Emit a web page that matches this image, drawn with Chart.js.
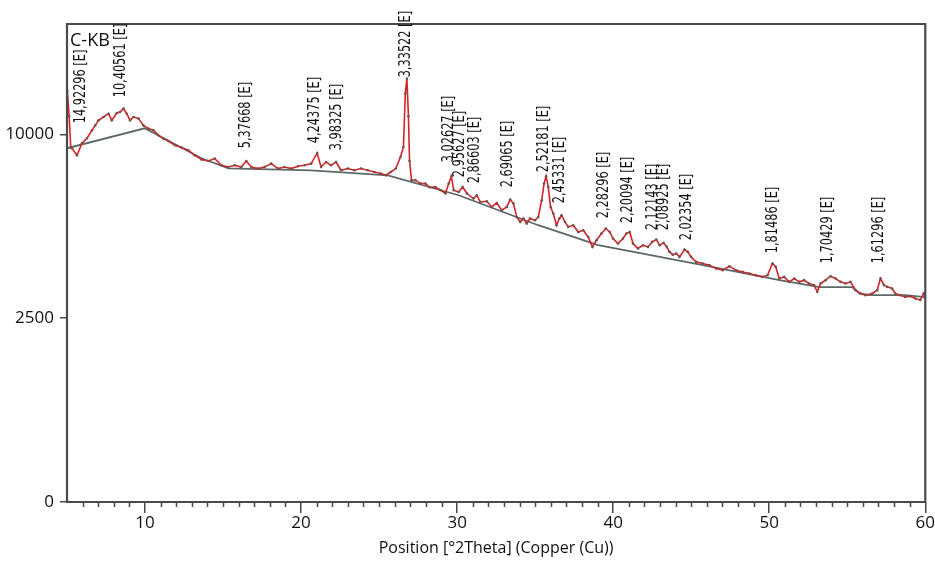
<!DOCTYPE html>
<html>
<head>
<meta charset="utf-8">
<script src="https://cdn.jsdelivr.net/npm/chart.js@4.4.0/dist/chart.umd.min.js"></script>
<style>
    body { margin: 0; background: #ffffff; }
    #area { width: 935px; height: 567px; }
</style>
</head>
<body>
<div id="area"><canvas id="grafico-drx" width="935" height="567"></canvas></div>
<script>
//Difratograma da amostra C-KB

//Posições (graus 2Theta) e contagens medidas
let posicoes = [5.02, 5.14, 5.24, 5.32, 5.64, 5.96, 6.28, 6.60, 6.81, 7.02, 7.34, 7.66, 7.87, 8.19, 8.40, 8.62, 8.83, 9.04, 9.26, 9.58,
    9.90, 10.22, 10.54, 10.86, 11.17, 11.49, 11.92, 12.34, 12.77, 13.19, 13.62, 14.05, 14.47, 14.90, 15.33, 15.75, 16.17, 16.49, 16.81, 17.24,
    17.66, 18.09, 18.52, 18.94, 19.37, 19.80, 20.22, 20.65, 21.03, 21.28, 21.60, 21.92, 22.24, 22.56, 22.99, 23.41, 23.84, 24.27, 24.69, 25.11,
    25.43, 25.75, 26.07, 26.37, 26.56, 26.68, 26.78, 26.88, 26.95, 27.08, 27.33, 27.67, 27.97, 28.24, 28.61, 28.95, 29.25, 29.46, 29.63, 29.78,
    30.10, 30.35, 30.63, 31.05, 31.26, 31.48, 31.90, 32.22, 32.54, 32.86, 33.18, 33.40, 33.61, 33.82, 34.04, 34.25, 34.46, 34.67, 34.99, 35.20,
    35.42, 35.57, 35.70, 35.84, 35.99, 36.16, 36.37, 36.55, 36.69, 36.91, 37.12, 37.44, 37.76, 38.08, 38.40, 38.67, 38.93, 39.25, 39.53, 39.78,
    39.99, 40.31, 40.63, 40.84, 41.06, 41.27, 41.59, 41.91, 42.23, 42.50, 42.76, 42.98, 43.23, 43.44, 43.61, 43.82, 44.04, 44.25, 44.57, 44.78,
    44.99, 45.31, 45.74, 46.17, 46.59, 47.02, 47.45, 47.87, 48.30, 48.72, 49.14, 49.57, 49.89, 50.21, 50.42, 50.64, 50.96, 51.28, 51.60, 51.92,
    52.23, 52.55, 52.87, 53.08, 53.29, 53.61, 53.93, 54.25, 54.57, 54.89, 55.21, 55.53, 55.85, 56.17, 56.60, 56.92, 57.13, 57.35, 57.56, 57.87,
    58.08, 58.40, 58.72, 59.04, 59.36, 59.68, 59.90, 60.00];

let contagens = [12500, 11000, 9300, 9255, 8890, 9516, 9785, 10220, 10490, 10775, 10962, 11152, 10775, 11193, 11249, 11447, 11152, 10775, 10962, 10872,
    10490, 10312, 10220, 9945, 9768, 9639, 9410, 9291, 9150, 8890, 8672, 8602, 8723, 8385, 8301, 8385, 8301, 8602, 8301, 8223,
    8301, 8471, 8223, 8301, 8223, 8336, 8385, 8471, 9010, 8301, 8551, 8385, 8551, 8140, 8223, 8140, 8223, 8140, 8056, 7978,
    7895, 8056, 8223, 8804, 9322, 12352, 13257, 11000, 8600, 7650, 7656, 7500, 7500, 7327, 7341, 7190, 7037, 7500, 7848, 7190,
    7110, 7341, 7037, 6811, 6960, 6659, 6690, 6439, 6615, 6296, 6439, 6766, 6589, 6011, 5802, 5943, 5735, 5943, 5870, 6011,
    6735, 7500, 7848, 7341, 6439, 6154, 5665, 5943, 6085, 5802, 5597, 5665, 5395, 5465, 5197, 4813, 5069, 5332, 5532, 5395,
    5135, 4942, 5135, 5332, 5395, 4942, 4753, 4877, 4813, 5003, 5096, 4877, 4965, 4813, 4627, 4523, 4567, 4443, 4715, 4627,
    4443, 4264, 4207, 4150, 4032, 3975, 4113, 3975, 3916, 3862, 3805, 3748, 3805, 4207, 4088, 3695, 3748, 3584, 3695, 3584,
    3640, 3532, 3480, 3266, 3532, 3640, 3771, 3695, 3584, 3532, 3584, 3320, 3216, 3165, 3216, 3320, 3695, 3480, 3423, 3372,
    3216, 3165, 3112, 3134, 3064, 3015, 3216, 3104];

//Linha de fundo (background)
let fundoPosicoes = [5.00, 9.98, 13.62, 15.34, 20.64, 25.56, 30.10, 35.20, 39.04, 45.42, 50.66, 53.21, 55.32, 55.77, 56.40, 58.70, 60.00];
let fundoContagens = [9255, 10330, 8738, 8237, 8139, 7896, 6960, 5666, 4877, 4183, 3639, 3413, 3413, 3225, 3164, 3164, 3104];

//Picos identificados: distância d (Angstrom) e altura do pico
let picosD = [14.92296, 10.40561, 5.37668, 4.24375, 3.98325, 3.33522, 3.02627, 2.95627, 2.86603, 2.69065,
    2.52181, 2.45331, 2.28296, 2.20094, 2.12143, 2.08925, 2.02354, 1.81486, 1.70429, 1.61296];
let picosAltura = [10054, 11522, 8738, 8995, 8637, 12717, 8041, 7327, 7051, 6869,
    7562, 6167, 5544, 5343, 5069, 5069, 4689, 4218, 3872, 3872];

let ticksX = [10, 20, 30, 40, 50, 60];
let ticksY = [0, 2500, 10000];
let nomeAmostra = 'C-KB';
let tituloX = 'Position [°2Theta] (Copper (Cu))';

const LAMBDA_CU = 1.5406;

//Lei de Bragg: d -> 2Theta
function doisTheta(d) {
    return 2 * Math.asin(LAMBDA_CU / (2 * d)) * 180 / Math.PI;
}

//Escala em raiz quadrada para as contagens
class EscalaRaiz extends Chart.LinearScale {
    getPixelForValue(value) {
        if (value === null || value === undefined) return NaN;
        let a = Math.sqrt(this.min);
        let b = Math.sqrt(this.max);
        return this.getPixelForDecimal((Math.sqrt(Math.max(value, 0)) - a) / (b - a));
    }
    getValueForPixel(pixel) {
        let a = Math.sqrt(this.min);
        let b = Math.sqrt(this.max);
        let s = a + this.getDecimalForPixel(pixel) * (b - a);
        return s * s;
    }
}
EscalaRaiz.id = 'raiz';
EscalaRaiz.defaults = {};
Chart.register(EscalaRaiz);

let pontos = [];
for (var i = 0; i < posicoes.length; i++) {
    pontos.push({ x: posicoes[i], y: contagens[i] });
}
let pontosFundo = [];
for (var i = 0; i < fundoPosicoes.length; i++) {
    pontosFundo.push({ x: fundoPosicoes[i], y: fundoContagens[i] });
}

//Moldura, marcas menores do eixo x, nome da amostra e rótulos dos picos
const extras = {
    id: 'extras',
    afterDraw(chart) {
        const g2 = chart.ctx;
        const esq = chart.chartArea.left;
        const dir = chart.chartArea.right;
        const topo = chart.chartArea.top;
        const base = chart.chartArea.bottom;
        const x = chart.scales.x;
        const y = chart.scales.y;
        g2.save();

        //moldura
        g2.strokeStyle = '#4a4a4a';
        g2.lineWidth = 2.2;
        g2.beginPath();
        g2.moveTo(esq, base);
        g2.lineTo(esq, topo);
        g2.lineTo(dir, topo);
        g2.lineTo(dir, base);
        g2.lineTo(esq, base);
        g2.closePath();
        g2.stroke();

        //marcas de 1 em 1 grau
        g2.lineWidth = 1.5;
        g2.beginPath();
        for (var g = 6; g < 60; g++) {
            if (g % 10 == 0) continue;
            let px = Math.round(x.getPixelForValue(g)) + 0.5;
            g2.moveTo(px, base);
            g2.lineTo(px, base + 5);
        }
        g2.stroke();

        g2.fillStyle = '#111111';
        g2.font = '18px "Open Sans"';
        g2.textAlign = 'left';
        g2.textBaseline = 'alphabetic';
        g2.fillText(nomeAmostra, esq + 3, topo + 22);

        g2.font = '15px "DejaVu Sans Condensed"';
        g2.textBaseline = 'middle';
        for (var k = 0; k < picosD.length; k++) {
            let px = x.getPixelForValue(doisTheta(picosD[k]));
            let py = y.getPixelForValue(picosAltura[k]) - 10;
            let texto = picosD[k].toFixed(5).replace('.', ',') + ' [E]';
            g2.save();
            g2.translate(px, py);
            g2.rotate(-Math.PI / 2);
            g2.scale(0.84, 1);
            g2.fillText(texto, 0, 0);
            g2.restore();
        }
        g2.restore();
    }
};

const ctx = document.getElementById('grafico-drx');
new Chart(ctx, {
    type: 'line',
    data: {
        datasets: [{
            label: nomeAmostra,
            data: pontos,
            borderColor: '#d8222b',
            borderWidth: 1.6,
            pointRadius: 1.3,
            pointBorderWidth: 0,
            pointBackgroundColor: '#6e5444',
            tension: 0,
            order: 0
        }, {
            label: 'Background',
            data: pontosFundo,
            borderColor: '#5d6868',
            borderWidth: 1.8,
            pointRadius: 0,
            tension: 0,
            order: 1
        }]
    },
    options: {
        responsive: false,
        animation: false,
        layout: {
            autoPadding: false,
            padding: { top: 24, right: 7, left: 0, bottom: 0 }
        },
        scales: {
            x: {
                type: 'linear',
                min: 5,
                max: 60,
                afterFit: function (s) { s.height = 65; },
                afterBuildTicks: function (s) {
                    s.ticks = ticksX.map(function (v) { return { value: v }; });
                },
                border: { display: false },
                grid: {
                    drawOnChartArea: false,
                    drawTicks: true,
                    tickLength: 11,
                    color: '#4a4a4a',
                    lineWidth: 1.5
                },
                ticks: {
                    padding: 0,
                    maxRotation: 0,
                    color: '#111111',
                    font: { size: 17, family: 'Open Sans' },
                    callback: function (v) { return String(v); }
                },
                title: {
                    display: true,
                    text: tituloX,
                    color: '#111111',
                    font: { size: 16, family: 'Open Sans' },
                    padding: { top: 0, bottom: 9 }
                }
            },
            y: {
                type: 'raiz',
                min: 0,
                max: 16900,
                afterFit: function (s) { s.width = 67; },
                afterBuildTicks: function (s) {
                    s.ticks = ticksY.map(function (v) { return { value: v }; });
                },
                border: { display: false },
                grid: {
                    drawOnChartArea: false,
                    drawTicks: true,
                    tickLength: 7,
                    color: '#4a4a4a',
                    lineWidth: 1.5
                },
                ticks: {
                    padding: 6,
                    color: '#111111',
                    font: { size: 17, family: 'Open Sans' },
                    callback: function (v) { return String(v); }
                }
            }
        },
        plugins: {
            legend: { display: false },
            tooltip: { enabled: false }
        }
    },
    plugins: [extras]
});
</script>
</body>
</html>
